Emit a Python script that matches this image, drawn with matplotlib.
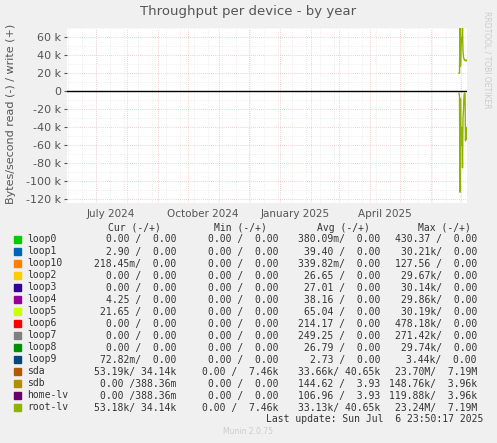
import matplotlib
matplotlib.use("Agg")
import matplotlib.pyplot as plt
import matplotlib.dates as mdates
from datetime import datetime, timedelta
import numpy as np

names = ["loop0","loop1","loop10","loop2","loop3","loop4","loop5","loop6","loop7","loop8","loop9","sda","sdb","home-lv","root-lv"]
colors = ["#00cc00","#0066b3","#ff8000","#ffcc00","#330099","#990099","#ccff00","#ff0000","#808080","#008f00","#00487d","#b35a00","#b38f00","#6b006b","#8fb300"]
cur = ["0.00 /  0.00","2.90 /  0.00","218.45m/  0.00","0.00 /  0.00","0.00 /  0.00","4.25 /  0.00","21.65 /  0.00","0.00 /  0.00","0.00 /  0.00","0.00 /  0.00","72.82m/  0.00","53.19k/ 34.14k","0.00 /388.36m","0.00 /388.36m","53.18k/ 34.14k"]
mins = ["0.00 /  0.00"]*11 + ["0.00 /  7.46k","0.00 /  0.00","0.00 /  0.00","0.00 /  7.46k"]
avgs = ["380.09m/  0.00","39.40 /  0.00","339.82m/  0.00","26.65 /  0.00","27.01 /  0.00","38.16 /  0.00","65.04 /  0.00","214.17 /  0.00","249.25 /  0.00","26.79 /  0.00","2.73 /  0.00","33.66k/ 40.65k","144.62 /  3.93","106.96 /  3.93","33.13k/ 40.65k"]
maxs = ["430.37 /  0.00","30.21k/  0.00","127.56 /  0.00","29.67k/  0.00","30.14k/  0.00","29.86k/  0.00","30.19k/  0.00","478.18k/  0.00","271.42k/  0.00","29.74k/  0.00","3.44k/  0.00","23.70M/  7.19M","148.76k/  3.96k","119.88k/  3.96k","23.24M/  7.19M"]

# recent week data (days before end) for root-lv / sda
days_back = [8.0, 7.5, 7.0, 6.5, 6.0, 5.5, 5.0, 4.5, 4.0, 3.5, 3.0, 2.5, 2.0, 1.5, 1.0, 0.5]
write_k = [20, 20, 70, 28, 45, 60, 55, 70, 45, 38, 36, 35, 34, 34, 35, 34]
read_k = [-2, -5, -112, -8, -60, -40, -50, -85, -30, -20, -5, -2, -3, -55, -40, -53]

end = datetime(2025, 7, 6, 23, 50)
start = end - timedelta(days=400)

W, H = 497, 443
fig = plt.figure(figsize=(W/100, H/100), dpi=100, facecolor="#f0f0f0")
ax = fig.add_axes([67/W, 1-203/H, 400/W, 175/H])
ax.set_facecolor("white")

t = [end - timedelta(days=d) for d in days_back]
ax.plot(t, [w*1000 for w in write_k], color="#8fb300", lw=1)
ax.plot(t, [r*1000 for r in read_k], color="#8fb300", lw=1)
ax.axhline(0, color="black", lw=1)

ax.set_xlim(start, end)
ax.set_ylim(-124000, 70300)

# grids
yt = np.arange(-120000, 60001, 20000)
ax.set_yticks(yt)
ax.set_yticklabels([("%d k" % (v//1000)) if v != 0 else "0" for v in yt], fontsize=8, color="#555555")
for v in np.arange(-120000, 70001, 10000):
    ax.axhline(v, color="#e0e0e0" if v % 20000 else "#f0a0a0", lw=0.5, ls=(0, (1, 2)), zorder=0)
d = datetime(2024, 6, 1)
while d < end:
    ax.axvline(d, color="#f0a0a0", lw=0.5, ls=(0, (1, 2)), zorder=0)
    d = datetime(d.year + (d.month == 12), d.month % 12 + 1, 1)
w = datetime(2024, 6, 3)
while w < end:
    ax.axvline(w, color="#e0e0e0", lw=0.5, ls=(0, (1, 2)), zorder=0)
    w += timedelta(days=14)

xt = [datetime(2024, 7, 16), datetime(2024, 10, 16), datetime(2025, 1, 16), datetime(2025, 4, 16)]
ax.set_xticks(xt)
ax.set_xticklabels(["July 2024", "October 2024", "January 2025", "April 2025"], fontsize=7.5, color="#555555")
ax.tick_params(axis="x", length=0, pad=4)
ax.tick_params(axis="y", length=2, pad=2, colors="#555555")
for s in ax.spines.values():
    s.set_visible(False)

fig.text(0.5, 1-12/H, "Throughput per device - by year", ha="center", va="center", fontsize=9.5, color="#555555")
fig.text(11/W, 1-114/H, "Bytes/second read (-) / write (+)", rotation=90, ha="center", va="center", fontsize=8, color="#555555")
fig.text(487/W, 1-60/H, "RRDTOOL / TOBI OETIKER", rotation=270, ha="center", va="center", fontsize=5.5, color="#cccccc")

mono = "DejaVu Sans Mono"
fs = 7
hy = 228
for x, s in [(134, "Cur (-/+)"), (240, "Min (-/+)"), (343, "Avg (-/+)"), (444, "Max (-/+)")]:
    fig.text(x/W, 1-hy/H, s, ha="center", va="center", family=mono, fontsize=fs, color="#333333")
for i, n in enumerate(names):
    y = 239.5 + i*12
    fig.patches.append(plt.Rectangle((14/W, 1-(y+3.5)/H), 7/W, 7/H, transform=fig.transFigure, color=colors[i], figure=fig))
    fig.text(27/W, 1-y/H, n, ha="left", va="center", family=mono, fontsize=fs, color="#333333")
    for xr, col in [(176, cur), (278, mins), (380, avgs), (477, maxs)]:
        fig.text(xr/W, 1-y/H, col[i], ha="right", va="center", family=mono, fontsize=fs, color="#333333")
fig.text(483/W, 1-419.5/H, "Last update: Sun Jul  6 23:50:17 2025", ha="right", va="center", family=mono, fontsize=fs, color="#333333")
fig.text(248/W, 1-432/H, "Munin 2.0.75", ha="center", va="center", fontsize=5.5, color="#cccccc")

fig.savefig("out.png", dpi=100, facecolor=fig.get_facecolor())
